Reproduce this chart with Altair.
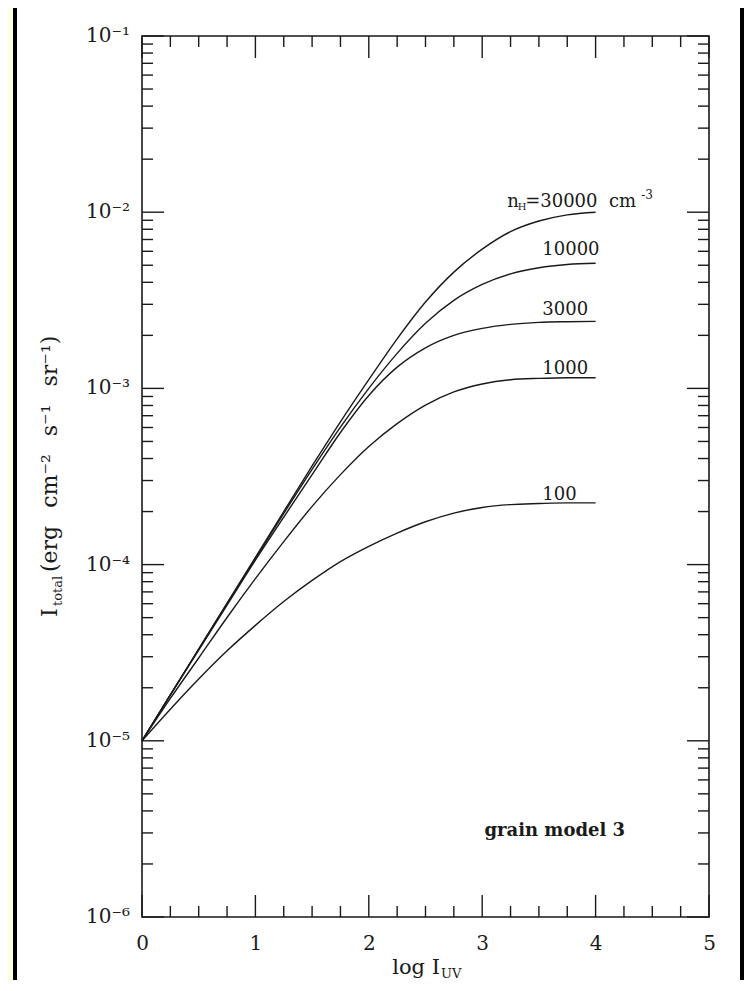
import altair as alt
import pandas as pd

# ---------------- data ----------------
log_iuv = [0.0, 0.25, 0.5, 0.75, 1.0, 1.25, 1.5, 1.75, 2.0, 2.25, 2.5, 2.75,
           3.0, 3.25, 3.5, 3.75, 4.0]
i_n30000 = [1.00e-5, 1.82e-5, 3.31e-5, 6.03e-5, 1.10e-4, 2.00e-4, 3.63e-4, 6.46e-4,
            1.12e-3, 1.91e-3, 3.09e-3, 4.57e-3, 6.17e-3, 7.76e-3, 8.91e-3, 9.66e-3, 1.00e-2]
i_n10000 = [1.00e-5, 1.82e-5, 3.31e-5, 6.03e-5, 1.08e-4, 1.95e-4, 3.47e-4, 6.03e-4,
            1.00e-3, 1.58e-3, 2.34e-3, 3.16e-3, 3.89e-3, 4.47e-3, 4.84e-3, 5.05e-3, 5.13e-3]
i_n3000 = [1.00e-5, 1.82e-5, 3.27e-5, 5.89e-5, 1.06e-4, 1.86e-4, 3.24e-4, 5.62e-4,
           9.12e-4, 1.32e-3, 1.70e-3, 2.00e-3, 2.19e-3, 2.31e-3, 2.37e-3, 2.39e-3, 2.40e-3]
i_n1000 = [1.00e-5, 1.74e-5, 2.95e-5, 5.01e-5, 8.32e-5, 1.35e-4, 2.14e-4, 3.24e-4,
           4.68e-4, 6.31e-4, 8.04e-4, 9.55e-4, 1.06e-3, 1.12e-3, 1.14e-3, 1.15e-3, 1.15e-3]
i_n100 = [1.00e-5, 1.51e-5, 2.24e-5, 3.24e-5, 4.52e-5, 6.17e-5, 8.13e-5, 1.04e-4,
          1.27e-4, 1.51e-4, 1.75e-4, 1.96e-4, 2.11e-4, 2.19e-4, 2.22e-4, 2.24e-4, 2.24e-4]

densities = ["30000", "10000", "3000", "1000", "100"]
series = [i_n30000, i_n10000, i_n3000, i_n1000, i_n100]

x_major_ticks = [0, 1, 2, 3, 4, 5]
x_minor_ticks = [0.25, 0.5, 0.75, 1.25, 1.5, 1.75, 2.25, 2.5, 2.75,
                 3.25, 3.5, 3.75, 4.25, 4.5, 4.75]
y_major_ticks = [1e-6, 1e-5, 1e-4, 1e-3, 1e-2, 1e-1]
y_tick_labels = ["10⁻⁶", "10⁻⁵", "10⁻⁴", "10⁻³", "10⁻²", "10⁻¹"]
y_minor_ticks = [m * d for d in y_major_ticks[:-1] for m in range(2, 10)]

label_x = 3.53          # left edge of the density labels (log I_UV)
model_label_x = 3.64
model_label_y = 2.9e-6

# ---------------- style / layout ----------------
FONT = "DejaVu Serif"
INK = "#1a1a1a"
CREAM = "#FFFFE3"
W, H = 567, 881
PAD = {"left": 134, "top": 28, "right": 35, "bottom": 63}
MAJ, MIN = 22, 11
NB = "\u00a0"          # non-collapsing space
GAP = "\u2002\u00a0"   # wider word gap used in the axis title

xs = alt.Scale(domain=[0, 5], nice=False, zero=False)
ys = alt.Scale(type="log", domain=[1e-6, 1e-1], nice=False)
x_axis = alt.Axis(values=x_major_ticks, format="d", ticks=False, tickSize=0,
                  domain=False, grid=False, title=None, labelFont=FONT,
                  labelFontSize=20, labelColor=INK, labelPadding=16,
                  labelFlush=False)


def X(f):
    return alt.X(f"{f}:Q", scale=xs, axis=x_axis)


def Y(f):
    return alt.Y(f"{f}:Q", scale=ys, axis=None)


one = pd.DataFrame({"k": [0]})
layers = []

# page decoration: cream strip + black border on the left, black border right
layers.append(alt.Chart(one).mark_rect(color=CREAM).encode(
    x=alt.value(-PAD["left"]), x2=alt.value(-PAD["left"] + 5),
    y=alt.value(-PAD["top"]), y2=alt.value(H + PAD["bottom"])))
layers.append(alt.Chart(one).mark_rect(color="#000").encode(
    x=alt.value(-PAD["left"] + 5), x2=alt.value(-PAD["left"] + 9),
    y=alt.value(-PAD["top"]), y2=alt.value(H + PAD["bottom"])))
layers.append(alt.Chart(one).mark_rect(color="#000").encode(
    x=alt.value(W + PAD["right"] - 4), x2=alt.value(W + PAD["right"]),
    y=alt.value(-PAD["top"]), y2=alt.value(H + PAD["bottom"])))

# curves
rows = []
for name, vals in zip(densities, series):
    for xv, yv in zip(log_iuv, vals):
        rows.append({"x": xv, "y": yv, "n": name})
curves = pd.DataFrame(rows)
layers.append(alt.Chart(curves).mark_line(color=INK, strokeWidth=1.4,
                                          interpolate="monotone").encode(
    x=X("x"), y=Y("y"), detail="n:N"))

# inward ticks on all four sides
dfx_maj = pd.DataFrame({"x": x_major_ticks})
dfx_min = pd.DataFrame({"x": x_minor_ticks})
dfy_maj = pd.DataFrame({"y": y_major_ticks})
dfy_min = pd.DataFrame({"y": y_minor_ticks})
tick_style = dict(color=INK, strokeWidth=1.4)
for df, ln in ((dfx_maj, MAJ), (dfx_min, MIN)):
    layers.append(alt.Chart(df).mark_rule(**tick_style).encode(
        x=X("x"), y=alt.value(H), y2=alt.value(H - ln)))
    layers.append(alt.Chart(df).mark_rule(**tick_style).encode(
        x=X("x"), y=alt.value(0), y2=alt.value(ln)))
for df, ln in ((dfy_maj, MAJ), (dfy_min, MIN)):
    layers.append(alt.Chart(df).mark_rule(**tick_style).encode(
        y=Y("y"), x=alt.value(0), x2=alt.value(ln)))
    layers.append(alt.Chart(df).mark_rule(**tick_style).encode(
        y=Y("y"), x=alt.value(W - ln), x2=alt.value(W)))

# y tick labels
dfy_lab = pd.DataFrame({"y": y_major_ticks, "t": y_tick_labels})
layers.append(alt.Chart(dfy_lab).mark_text(
    align="right", baseline="middle", font=FONT, fontSize=20, color=INK).encode(
    y=Y("y"), x=alt.value(-12), text="t:N"))

# density labels at the ends of the curves
label_dy = {"10000": -8, "3000": -6, "1000": -4, "100": -3}
for name, vals in zip(densities[1:], series[1:]):
    d = pd.DataFrame({"x": [label_x], "y": [vals[-1]], "t": [name]})
    layers.append(alt.Chart(d).mark_text(
        align="left", baseline="alphabetic", font=FONT, fontSize=18, color=INK,
        dy=label_dy[name]).encode(x=X("x"), y=Y("y"), text="t:N"))

# n_H=30000 cm^-3 label, built from pieces
top_anchor_x = 3.22
pieces = [("n", 18, 0, -5), ("H", 10, 10.5, -2),
          ("=30000" + NB + NB + "cm", 18, 18, -5),
          ("-3", 12, 134, -13)]
for txt, fs, dx, dy in pieces:
    d = pd.DataFrame({"x": [top_anchor_x], "y": [i_n30000[-1]], "t": [txt]})
    layers.append(alt.Chart(d).mark_text(
        align="left", baseline="alphabetic", font=FONT, fontSize=fs, color=INK,
        dx=dx, dy=dy).encode(x=X("x"), y=Y("y"), text="t:N"))

# grain model label
d = pd.DataFrame({"x": [model_label_x], "y": [model_label_y], "t": ["grain model 3"]})
layers.append(alt.Chart(d).mark_text(
    align="center", baseline="alphabetic", font=FONT, fontSize=18,
    fontWeight="bold", color=INK).encode(x=X("x"), y=Y("y"), text="t:N"))

# x axis title: log I_UV
d = pd.DataFrame({"t": ["log I"]})
layers.append(alt.Chart(d).mark_text(
    align="right", baseline="alphabetic", font=FONT, fontSize=21, color=INK).encode(
    x=alt.value(298), y=alt.value(938), text="t:N"))
d = pd.DataFrame({"t": ["UV"]})
layers.append(alt.Chart(d).mark_text(
    align="left", baseline="alphabetic", font=FONT, fontSize=13, color=INK).encode(
    x=alt.value(299), y=alt.value(942), text="t:N"))

# y axis title: I_total (erg cm^-2 s^-1 sr^-1), rotated
title_base_x = -85
d = pd.DataFrame({"t": ["I"]})
layers.append(alt.Chart(d).mark_text(
    align="left", baseline="alphabetic", font=FONT, fontSize=22, angle=270,
    color=INK).encode(x=alt.value(title_base_x), y=alt.value(581), text="t:N"))
d = pd.DataFrame({"t": ["total"]})
layers.append(alt.Chart(d).mark_text(
    align="left", baseline="alphabetic", font=FONT, fontSize=13, angle=270,
    color=INK).encode(x=alt.value(title_base_x + 5), y=alt.value(570), text="t:N"))
d = pd.DataFrame({"t": ["(erg" + GAP + "cm⁻²" + GAP + "s⁻¹" + GAP + "sr⁻¹)"]})
layers.append(alt.Chart(d).mark_text(
    align="left", baseline="alphabetic", font=FONT, fontSize=22, angle=270,
    color=INK).encode(x=alt.value(title_base_x), y=alt.value(536), text="t:N"))

chart = alt.layer(*layers).properties(
    width=W, height=H,
    autosize=alt.AutoSizeParams(type="none"),
    padding=PAD,
    background="white",
).configure_view(stroke=INK, strokeWidth=1.6)

chart.save("out.html", embed_options={"renderer": "svg", "actions": False})
